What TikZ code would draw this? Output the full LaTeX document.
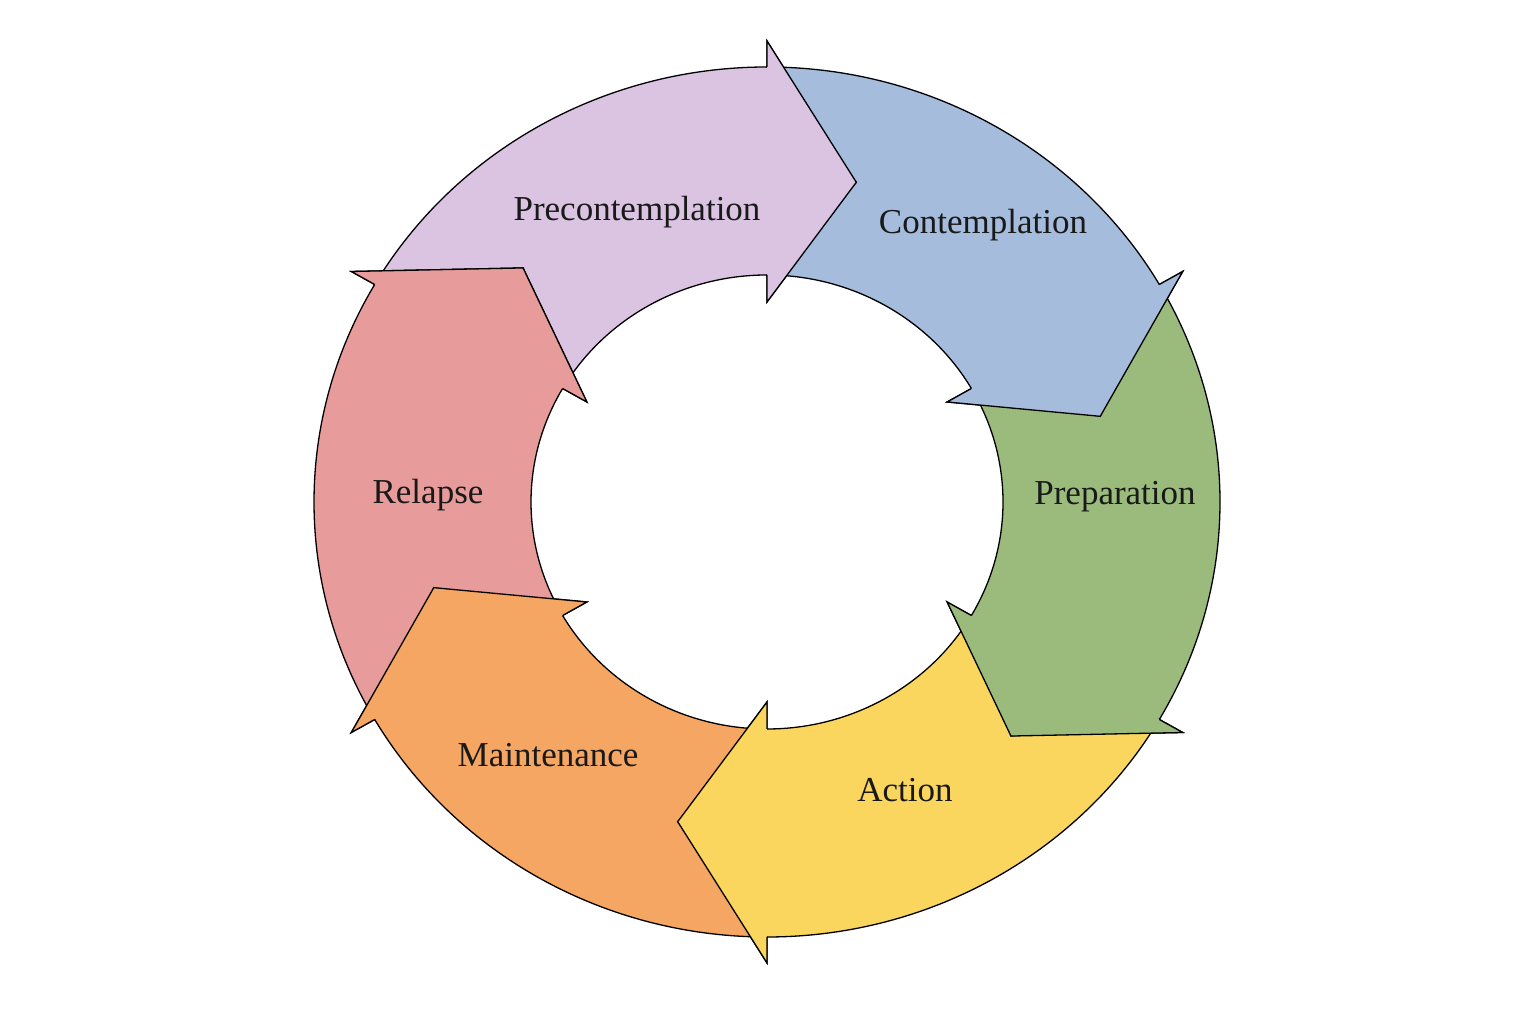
\documentclass[tikz,border=0pt]{standalone}
\usepackage{fontspec}
\setmainfont{Liberation Serif}
\begin{document}
\begin{tikzpicture}[x=1pt,y=1pt,
  seg/.style={draw=black,line width=1.3pt,line join=miter},
  lab/.style={font=\fontsize{35}{38}\selectfont,text=black!90}]
\useasboundingbox (0,0) rectangle (1536,1024);
\def\cx{767}\def\cy{522}
\def\ro{453}\def\ryo{435}
\def\ri{236}\def\ryi{227}
\def\rm{345}\def\rym{331}
\def\rbo{480}\def\rybo{461}
\def\rbi{208}\def\rybi{200}
\newcommand\mkseg[3]{%
  \path[seg,fill=#3]
   ({\cx+\ro*cos(#1)},{\cy+\ryo*sin(#1)})
   arc[start angle=#1,end angle=#2,x radius=\ro,y radius=\ryo]
   -- ({\cx+\rbo*cos(#2)},{\cy+\rybo*sin(#2)})
   -- ({\cx+\rm*cos(#2-15)},{\cy+\rym*sin(#2-15)})
   -- ({\cx+\rbi*cos(#2)},{\cy+\rybi*sin(#2)})
   -- ({\cx+\ri*cos(#2)},{\cy+\ryi*sin(#2)})
   arc[start angle=#2,end angle=#1,x radius=\ri,y radius=\ryi]
   -- ({\cx+\rm*cos(#1-15)},{\cy+\rym*sin(#1-15)}) -- cycle;}
\newcommand\mkhead[2]{%
  \fill[#2] ({\cx+\ro*cos(#1)},{\cy+\ryo*sin(#1)})
   -- ({\cx+\rbo*cos(#1)},{\cy+\rybo*sin(#1)})
   -- ({\cx+\rm*cos(#1-15)},{\cy+\rym*sin(#1-15)})
   -- ({\cx+\rbi*cos(#1)},{\cy+\rybi*sin(#1)})
   -- ({\cx+\ri*cos(#1)},{\cy+\ryi*sin(#1)}) -- cycle;
  \draw[seg] ({\cx+\ro*cos(#1)},{\cy+\ryo*sin(#1)})
   -- ({\cx+\rbo*cos(#1)},{\cy+\rybo*sin(#1)})
   -- ({\cx+\rm*cos(#1-15)},{\cy+\rym*sin(#1-15)})
   -- ({\cx+\rbi*cos(#1)},{\cy+\rybi*sin(#1)})
   -- ({\cx+\ri*cos(#1)},{\cy+\ryi*sin(#1)});}
\definecolor{cpre}{RGB}{218,196,226}
\definecolor{ccon}{RGB}{165,188,221}
\definecolor{cprep}{RGB}{155,187,125}
\definecolor{cact}{RGB}{250,214,95}
\definecolor{cmai}{RGB}{244,166,98}
\definecolor{crel}{RGB}{231,155,155}
\mkseg{150}{90}{cpre}
\mkseg{90}{30}{ccon}
\mkseg{30}{-30}{cprep}
\mkseg{-30}{-90}{cact}
\mkseg{-90}{-150}{cmai}
\mkseg{-150}{-210}{crel}
\mkhead{90}{cpre}
\mkhead{30}{ccon}
\mkhead{-30}{cprep}
\mkhead{-90}{cact}
\mkhead{-150}{cmai}
\mkhead{-210}{crel}
\node[lab] (pre) at (637,812) {Precontemplation};
\node[lab] (con) at (983,799) {Contemplation};
\node[lab] (prep) at (1115,527) {Preparation};
\node[lab] (act) at (905,234) {Action};
\node[lab] (mai) at (548,269) {Maintenance};
\node[lab] (rel) at (428,529) {Relapse};
\end{tikzpicture}
\end{document}
